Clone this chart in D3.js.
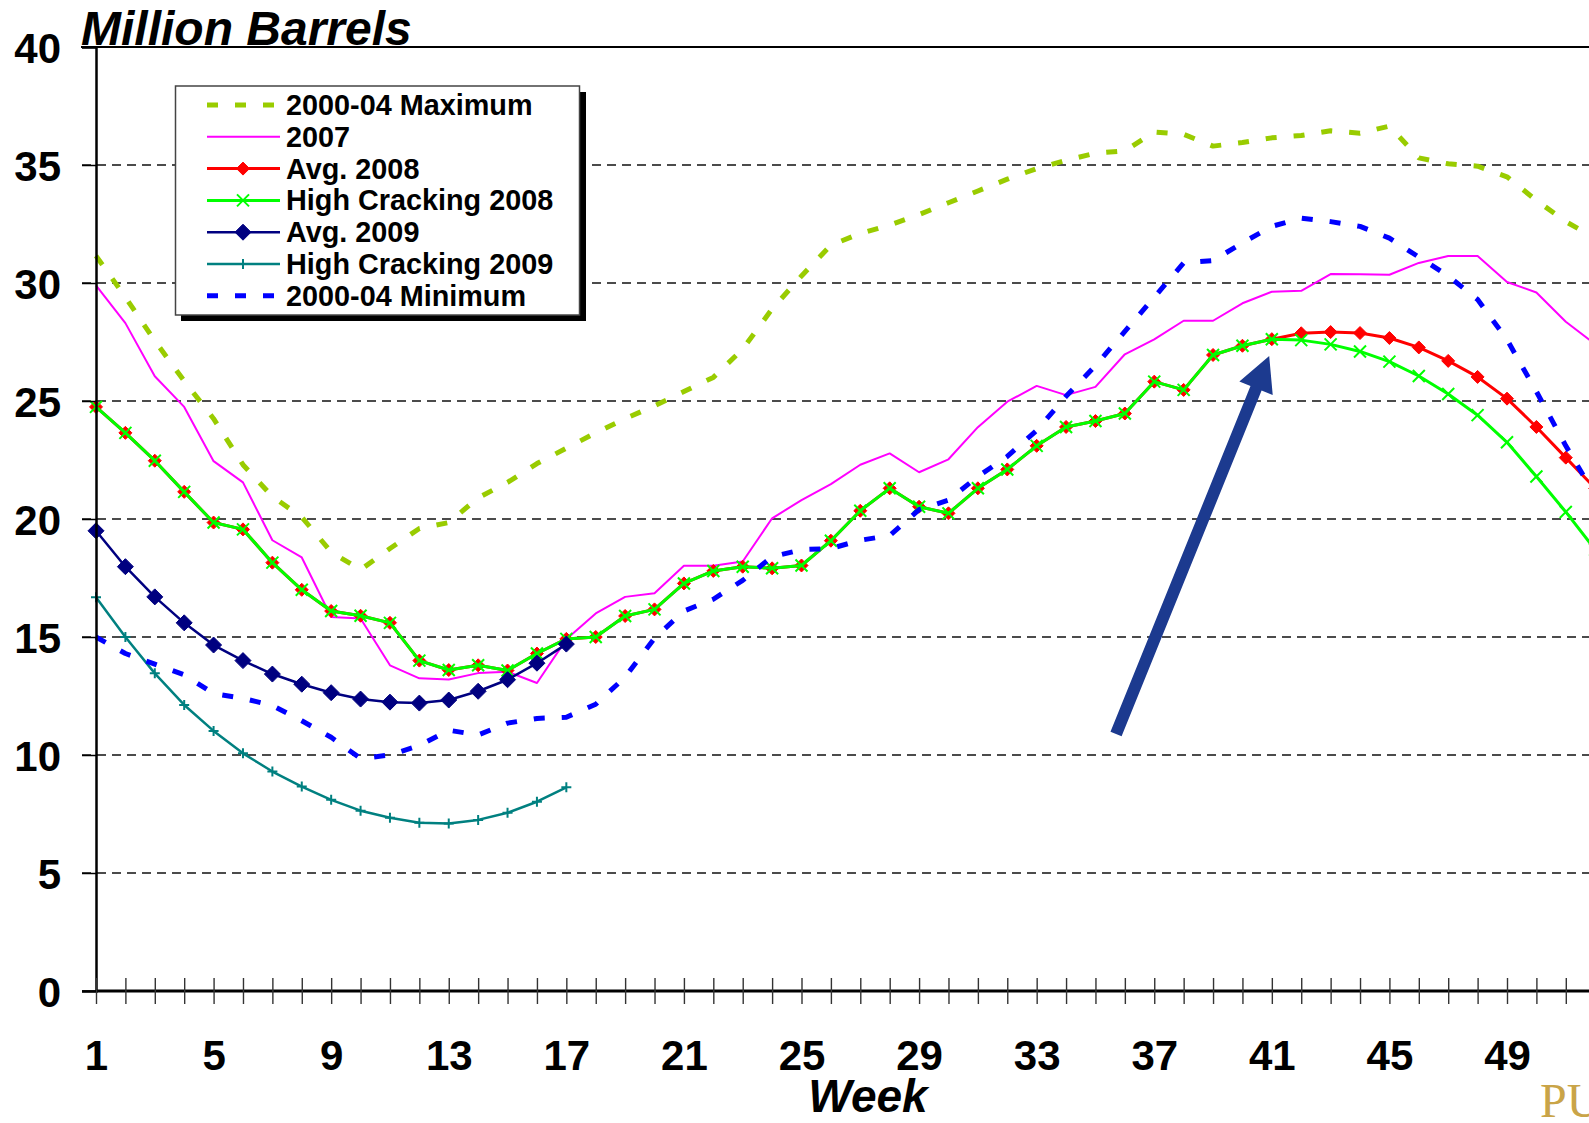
<html>
<head>
<script src="https://d3js.org/d3.v7.min.js"></script>
<style>
  body { margin: 0; background: #fff; }
  svg text { font-family: "Liberation Sans", Arial, sans-serif; font-weight: bold; fill: #000; }
</style>
</head>
<body>
<div id="chart"></div>
<script>
var width = 1589, height = 1123;

// ---- data ----
var weeks = [1,2,3,4,5,6,7,8,9,10,11,12,13,14,15,16,17,18,19,20,21,22,23,24,25,26,
             27,28,29,30,31,32,33,34,35,36,37,38,39,40,41,42,43,44,45,46,47,48,49,50,51,52];
var weekLabels = [1,5,9,13,17,21,25,29,33,37,41,45,49];
var yTicks = [0,5,10,15,20,25,30,35,40];

var max0004 = [31.15,29.4,27.55,25.85,24.25,22.3,20.95,20.08,18.6,17.85,18.75,19.6,19.85,20.9,21.55,22.35,
               23.0,23.65,24.25,24.8,25.4,26.0,27.2,28.9,30.3,31.6,32.1,32.45,32.9,33.4,33.9,34.4,34.85,35.2,
               35.5,35.6,36.4,36.3,35.8,35.95,36.15,36.25,36.45,36.35,36.65,35.3,35.05,34.95,34.5,33.5,32.6,31.9];
var y2007 = [29.9,28.3,26.05,24.75,22.45,21.55,19.1,18.37,15.85,15.78,13.8,13.25,13.2,13.47,13.53,13.05,
             14.9,16.0,16.7,16.85,18.02,18.02,18.2,20.03,20.8,21.48,22.3,22.78,21.98,22.53,23.89,24.97,
             25.64,25.25,25.6,26.98,27.61,28.4,28.4,29.14,29.63,29.67,30.38,30.37,30.35,30.85,31.14,31.14,
             30.04,29.6,28.36,27.4];
var avg2008 = [24.75,23.65,22.47,21.15,19.85,19.56,18.15,17.0,16.1,15.9,15.6,14.0,13.6,13.8,13.58,14.3,
               14.92,15.0,15.89,16.17,17.27,17.8,17.98,17.91,18.03,19.08,20.35,21.3,20.52,20.24,21.3,22.1,
               23.1,23.9,24.15,24.47,25.82,25.47,26.95,27.34,27.62,27.87,27.92,27.88,27.67,27.27,26.7,26.02,
               25.1,23.9,22.6,21.3];
var hc2008 = [24.75,23.65,22.47,21.15,19.85,19.56,18.15,17.0,16.1,15.9,15.6,14.0,13.6,13.8,13.58,14.3,
              14.92,15.0,15.89,16.17,17.27,17.8,17.98,17.91,18.03,19.08,20.35,21.3,20.52,20.24,21.3,22.1,
              23.1,23.9,24.15,24.47,25.82,25.47,26.95,27.34,27.62,27.58,27.4,27.1,26.67,26.06,25.3,24.4,
              23.25,21.8,20.3,18.7];
var avg2009 = [19.5,17.98,16.7,15.6,14.66,14.0,13.43,13.0,12.64,12.37,12.24,12.2,12.33,12.7,13.19,13.89,14.7];
var hc2009 = [16.68,15.0,13.46,12.12,11.02,10.07,9.3,8.66,8.1,7.64,7.34,7.13,7.1,7.25,7.55,8.02,8.63];
var min0004 = [15.0,14.3,13.85,13.4,12.6,12.4,12.1,11.45,10.75,9.85,10.0,10.4,11.05,10.85,11.35,11.55,
               11.6,12.15,13.3,14.95,16.1,16.6,17.4,18.4,18.7,18.75,19.1,19.3,20.4,20.8,21.8,22.65,23.75,
               25.2,26.5,27.95,29.4,30.85,30.95,31.7,32.4,32.75,32.6,32.4,31.9,31.1,30.3,29.3,27.6,25.4,23.1,21.0];

// arrow annotation, in chart units (week, million barrels)
var arrowTail = [35.7, 10.89];
var arrowTip = [40.91, 26.91];

// ---- styles ----
var series = [
  { name: "2000-04 Maximum",   values: max0004, color: "#99CC00", w: 5,   dash: "11,17" },
  { name: "2007",              values: y2007,   color: "#FF00FF", w: 2 },
  { name: "Avg. 2008",         values: avg2008, color: "#FF0000", w: 3,   marker: "diamond", size: 6.5 },
  { name: "High Cracking 2008",values: hc2008,  color: "#00FF00", w: 3,   marker: "x", size: 6 },
  { name: "Avg. 2009",         values: avg2009, color: "#000080", w: 2.5, marker: "diamond", size: 8 },
  { name: "High Cracking 2009",values: hc2009,  color: "#008080", w: 2.5, marker: "plus", size: 5 },
  { name: "2000-04 Minimum",   values: min0004, color: "#0000FF", w: 5,   dash: "11,17" }
];

function markerPath(type, s) {
  if (type == "diamond") return `M0,${-s}L${s},0L0,${s}L${-s},0Z`;
  if (type == "x") return `M${-s},${-s}L${s},${s}M${-s},${s}L${s},${-s}`;
  return `M${-s},0L${s},0M0,${-s}L0,${s}`;
}

var svg = d3.select("#chart").append("svg")
  .attr("width", width).attr("height", height)
  .style("display", "block");

var x = d3.scaleLinear().domain([1, 49]).range([96, 1507]);
var y = d3.scaleLinear().domain([0, 40]).range([991, 47]);

// gridlines
svg.append("g").selectAll("line")
  .data(yTicks.filter(d => d > 0 && d < 40))
  .enter().append("line")
  .attr("x1", 82).attr("x2", width)
  .attr("y1", d => y(d)).attr("y2", d => y(d))
  .attr("stroke", "#111").attr("stroke-width", 1.3)
  .attr("stroke-dasharray", "9,6");

// top border
svg.append("line")
  .attr("x1", 81).attr("x2", width)
  .attr("y1", y(40)).attr("y2", y(40))
  .attr("stroke", "#000").attr("stroke-width", 2);

// series
var line = d3.line()
  .x((d, i) => x(weeks[i]))
  .y(d => y(d));

series.forEach(function (s) {
  var g = svg.append("g");
  g.append("path")
    .attr("d", line(s.values))
    .attr("fill", "none")
    .attr("stroke", s.color)
    .attr("stroke-width", s.w)
    .attr("stroke-linejoin", "round")
    .attr("stroke-dasharray", s.dash || null);
  if (s.marker) {
    g.selectAll("path.mk")
      .data(s.values)
      .enter().append("path")
      .attr("class", "mk")
      .attr("transform", (d, i) => `translate(${x(weeks[i])},${y(d)})`)
      .attr("d", markerPath(s.marker, s.size))
      .attr("fill", s.marker == "diamond" ? s.color : "none")
      .attr("stroke", s.color)
      .attr("stroke-width", s.marker == "diamond" ? 1 : 2);
  }
});

// axes
var yAxis = d3.axisLeft(y).tickValues(yTicks).tickSize(14).tickPadding(21);
var gy = svg.append("g").attr("transform", `translate(${x(1)},0)`).call(yAxis);
gy.select(".domain").attr("stroke-width", 2.5);
gy.selectAll(".tick line").attr("stroke-width", 1.5);
gy.selectAll("text").attr("font-size", 42).attr("dy", "0.36em");

var xAxis = d3.axisBottom(x).tickValues(weeks)
  .tickFormat(d => weekLabels.indexOf(d) >= 0 ? d : "");
var gx = svg.append("g").attr("transform", `translate(0,${y(0)})`).call(xAxis);
gx.select(".domain").attr("d", `M${x(1)},0H${width}`).attr("stroke-width", 3);
gx.selectAll(".tick line").attr("y1", -13).attr("y2", 13)
  .attr("stroke", "#333").attr("stroke-width", 1.4);
gx.selectAll("text").attr("font-size", 42).attr("y", 79).attr("dy", null);

// y-axis extra left tick piece for 0 line
svg.append("line").attr("x1", 82).attr("x2", x(1))
  .attr("y1", y(0)).attr("y2", y(0)).attr("stroke", "#000").attr("stroke-width", 1.5);

// titles
svg.append("text").attr("x", 81).attr("y", 45)
  .attr("font-size", 48).attr("font-style", "italic")
  .text("Million Barrels");
svg.append("text").attr("x", 868).attr("y", 1112)
  .attr("text-anchor", "middle")
  .attr("font-size", 46).attr("font-style", "italic")
  .text("Week");

// arrow
(function () {
  var t0 = [x(arrowTail[0]), y(arrowTail[1])];
  var t1 = [x(arrowTip[0]), y(arrowTip[1])];
  var dx = t1[0] - t0[0], dy = t1[1] - t0[1];
  var len = Math.sqrt(dx * dx + dy * dy);
  var u = [dx / len, dy / len], n = [-u[1], u[0]];
  var headLen = 35, headHalf = 18, shaftHalf = 6;
  var b = [t1[0] - u[0] * headLen, t1[1] - u[1] * headLen];
  var pts = [
    [t0[0] + n[0] * shaftHalf, t0[1] + n[1] * shaftHalf],
    [b[0] + n[0] * shaftHalf, b[1] + n[1] * shaftHalf],
    [b[0] + n[0] * headHalf, b[1] + n[1] * headHalf],
    t1,
    [b[0] - n[0] * headHalf, b[1] - n[1] * headHalf],
    [b[0] - n[0] * shaftHalf, b[1] - n[1] * shaftHalf],
    [t0[0] - n[0] * shaftHalf, t0[1] - n[1] * shaftHalf]
  ];
  svg.append("polygon")
    .attr("points", pts.map(p => p.join(",")).join(" "))
    .attr("fill", "#1C3A8F");
})();

// legend
var lg = svg.append("g");
lg.append("rect").attr("x", 181).attr("y", 92).attr("width", 405).attr("height", 229).attr("fill", "#000");
lg.append("rect").attr("x", 175.5).attr("y", 86).attr("width", 404).attr("height", 229)
  .attr("fill", "#fff").attr("stroke", "#444").attr("stroke-width", 1.5);

var row = lg.selectAll("g.row").data(series).enter().append("g")
  .attr("class", "row")
  .attr("transform", (d, i) => `translate(0,${105 + i * 31.8})`);
row.append("line")
  .attr("x1", 207).attr("x2", 280).attr("y1", 0).attr("y2", 0)
  .attr("stroke", d => d.color)
  .attr("stroke-width", d => d.dash ? 5 : d.w)
  .attr("stroke-dasharray", d => d.dash || null);
row.filter(d => d.marker).append("path")
  .attr("transform", "translate(243,0)")
  .attr("d", d => markerPath(d.marker, d.size))
  .attr("fill", d => d.marker == "diamond" ? d.color : "none")
  .attr("stroke", d => d.color)
  .attr("stroke-width", d => d.marker == "diamond" ? 1 : 2);
row.append("text")
  .attr("x", 286).attr("y", 10)
  .attr("font-size", 28.8)
  .text(d => d.name);

// logo text, cut off at the edge as in the original slide
svg.append("text").attr("x", 1540).attr("y", 1117)
  .attr("font-size", 48)
  .style("font-family", "'Liberation Serif', 'DejaVu Serif', serif")
  .style("font-weight", "normal")
  .style("fill", "#C9A448")
  .text("PURDUE");
</script>
</body>
</html>
